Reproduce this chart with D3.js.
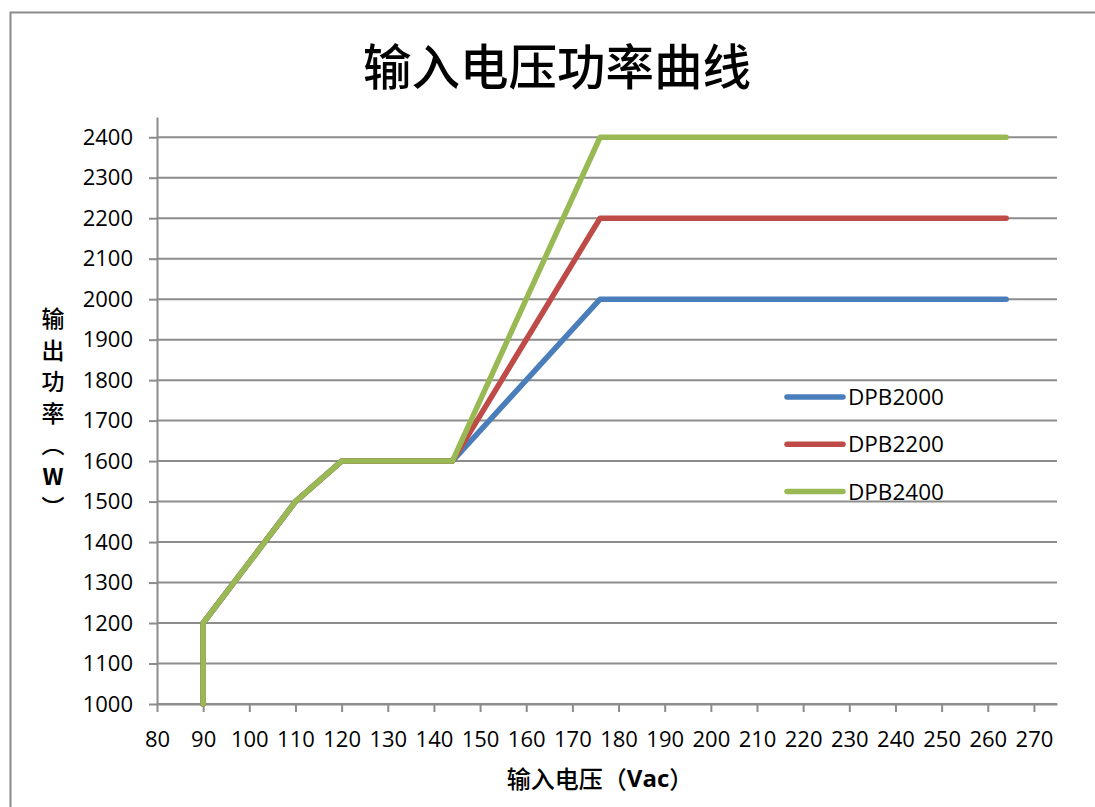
<!DOCTYPE html>
<html>
<head>
<meta charset="utf-8">
<script src="https://cdn.jsdelivr.net/npm/d3@7"></script>
<style>
  html, body { margin: 0; padding: 0; background: #fff; }
  svg { display: block; }
  .tick text { font-family: "Open Sans", "Noto Sans", sans-serif; font-size: 22px; fill: #000; }
</style>
</head>
<body>
<svg id="chart" width="1095" height="807"></svg>
<script>
// Input voltage (Vac) breakpoints shared by every model
const voltage = [90, 90, 110, 120, 144, 176, 264];
// Output power (W) per model at each breakpoint
const dpb2000 = [1000, 1200, 1500, 1600, 1600, 2000, 2000];
const dpb2200 = [1000, 1200, 1500, 1600, 1600, 2200, 2200];
const dpb2400 = [1000, 1200, 1500, 1600, 1600, 2400, 2400];
const seriesNames = ["DPB2000", "DPB2200", "DPB2400"];
const seriesColors = ["#4a7ebb", "#be4b48", "#98b954"];
const xTicks = d3.range(80, 271, 10);
const yTicks = d3.range(1000, 2401, 100);

const svg = d3.select("#chart");

// chart frame
svg.append("rect")
  .attr("x", 10.5).attr("y", 12.5)
  .attr("width", 1100).attr("height", 810)
  .attr("fill", "#fff").attr("stroke", "#8a8a8a").attr("stroke-width", 2);

const plot = { left: 157, right: 1057, top: 117, bottom: 704 };
const x = d3.scaleLinear().domain([80, 275]).range([plot.left, plot.right]);
const y = d3.scaleLinear().domain([1000, 2450]).range([plot.bottom, plot.top]);

// horizontal gridlines
svg.append("g")
  .selectAll("line")
  .data(yTicks)
  .join("line")
  .attr("x1", plot.left).attr("x2", plot.right)
  .attr("y1", d => y(d)).attr("y2", d => y(d))
  .attr("stroke", "#8c8c8c").attr("stroke-width", 2);

// axes
const gx = svg.append("g")
  .attr("transform", `translate(0,${plot.bottom})`)
  .call(d3.axisBottom(x).tickValues(xTicks).tickFormat(d3.format("d"))
    .tickSize(8).tickSizeOuter(0).tickPadding(19));
const gy = svg.append("g")
  .attr("transform", `translate(${plot.left},0)`)
  .call(d3.axisLeft(y).tickValues(yTicks).tickFormat(d3.format("d"))
    .tickSize(8).tickSizeOuter(0).tickPadding(16));
[gx, gy].forEach(g => {
  g.selectAll(".domain, .tick line").attr("stroke", "#8c8c8c").attr("stroke-width", 2);
});

// power curves
const seriesData = [dpb2000, dpb2200, dpb2400];
const line = d3.line().x(d => x(d[0])).y(d => y(d[1]));
seriesData.forEach((vals, i) => {
  svg.append("path")
    .datum(voltage.map((v, j) => [v, vals[j]]))
    .attr("d", line)
    .attr("fill", "none")
    .attr("stroke", seriesColors[i])
    .attr("stroke-width", 5.5)
    .attr("stroke-linejoin", "round")
    .attr("stroke-linecap", "round");
});

// legend
const legend = svg.append("g").attr("transform", "translate(787,397)");
seriesNames.forEach((name, i) => {
  const row = legend.append("g").attr("transform", `translate(0,${i * 47.3})`);
  row.append("line")
    .attr("x1", 0).attr("x2", 56)
    .attr("stroke", seriesColors[i]).attr("stroke-width", 5.5)
    .attr("stroke-linecap", "round");
  row.append("text")
    .attr("x", 61).attr("dy", "0.36em")
    .attr("font-family", "'Open Sans', 'Noto Sans', sans-serif")
    .attr("font-size", 22.5)
    .text(name);
});

// title
svg.append("text")
  .attr("x", 557).attr("y", 64)
  .attr("text-anchor", "middle").attr("dominant-baseline", "central")
  .attr("font-family", "'Noto Sans CJK SC', sans-serif")
  .attr("font-size", 48.5).attr("font-weight", 500)
  .text("输入电压功率曲线");

// x-axis title
const xt = svg.append("text")
  .attr("x", 600).attr("y", 777)
  .attr("text-anchor", "middle").attr("dominant-baseline", "central")
  .attr("font-family", "'Noto Sans CJK SC', sans-serif")
  .attr("font-size", 24);
xt.append("tspan").attr("font-weight", 500).text("输入电压（");
xt.append("tspan").attr("font-weight", 700).attr("font-family", "'Open Sans', sans-serif").text("Vac");
xt.append("tspan").attr("font-weight", 500).text("）");

// y-axis title, stacked vertically
const yChars = ["输", "出", "功", "率", "︵", "W", "︶"];
const yt = svg.append("text")
  .attr("font-family", "'Noto Sans CJK SC', sans-serif")
  .attr("font-size", 23)
  .attr("text-anchor", "middle").attr("dominant-baseline", "central");
yChars.forEach((c, i) => {
  yt.append("tspan")
    .attr("x", 53).attr("y", 317 + i * 31.5)
    .attr("font-weight", c === "W" ? 700 : 500)
    .text(c);
});
</script>
</body>
</html>
